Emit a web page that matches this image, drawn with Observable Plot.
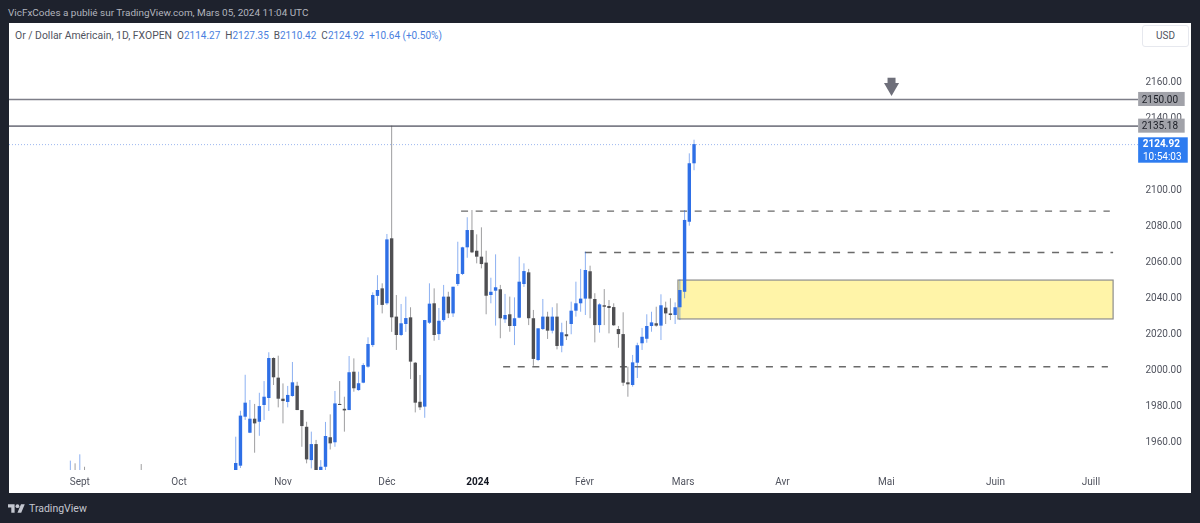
<!DOCTYPE html>
<html>
<head>
<meta charset="utf-8">
<script src="https://cdn.jsdelivr.net/npm/d3@7"></script>
<script src="https://cdn.jsdelivr.net/npm/@observablehq/plot@0.6"></script>
<style>
  html, body { margin: 0; padding: 0; background: #1e222d; }
  body { width: 1200px; height: 523px; overflow: hidden; position: relative; font-family: Roboto, sans-serif; }
  #author { position: absolute; left: 8px; top: 6px; font-size: 9.95px; line-height: 14px; color: #b2b5be; white-space: nowrap; }
  #chart_1 { position: absolute; left: 9px; top: 23px; width: 1182px; height: 470px; background: #fff; }
  #chart_1 svg { display: block; filter: blur(0.3px); }
  #legend { position: absolute; left: 6px; top: 6px; font-size: 10.4px; line-height: 14px; color: #50535e; white-space: nowrap; z-index: 1; }
  #legend span { color: #4a7fe0; font-size: 10px; }
  #legend b { font-weight: normal; font-size: 10px; margin-left: 5px; }
  #usd { position: absolute; left: 1133px; top: 2px; width: 45px; height: 20px; border: 1px solid #e6e8ee; border-radius: 3px; font-size: 10px; line-height: 20px; color: #50535e; text-align: center; background: #fff; z-index: 1; }
  #brand { position: absolute; left: 8px; top: 502px; height: 13px; display: flex; align-items: center; color: #c4c7d0; font-size: 10.5px; }
  #brand svg { margin-right: 4px; }
</style>
</head>
<body>
<div id="author">VicFxCodes a publié sur TradingView.com, Mars 05, 2024 11:04 UTC</div>
<div id="chart_1">
  <div id="legend">Or / Dollar Américain, 1D, FXOPEN<b>O</b><span>2114.27</span><b>H</b><span>2127.35</span><b>B</b><span>2110.42</span><b>C</b><span>2124.92</span><b><span>+10.64 (+0.50%)</span></b></div>
  <div id="usd">USD</div>
</div>
<div id="brand">
  <svg width="17" height="13" viewBox="0 2 36 22"><path fill="#c4c7d0" d="M14 22H7V11H0V4h14v18zM28 22h-8l7.5-18h8L28 22z"/><circle fill="#c4c7d0" cx="20" cy="8" r="4"/></svg>
  TradingView
</div>
<script>
  // first bar of the main run, counted in trading days
  const firstBar = 35;
  const highs = [1962.4,1976.8,1996.8,1982.8,1980.6,1986.8,1993.3,2009.3,2006.5,2007.4,
    1992,1990.6,2003.9,1992.9,1977.2,1970.7,1965.2,1960.6,1949.4,1970.6,
    1974.8,1987.8,1993.3,1984.6,2007.2,2005.9,1998.5,2003.2,2017.6,2042.6,
    2052.1,2047.6,2075,2135.18,2041.1,2036.1,2040.2,2034.3,2003.9,1996.7,
    2027.2,2047.6,2044.8,2033.9,2046.7,2042.9,2045.7,2070.7,2067.9,2084.3,
    2088.3,2074.8,2078.7,2065.7,2050.7,2063.7,2046.7,2041.7,2040.2,2039.8,
    2062.4,2058.7,2055.6,2032.8,2022.6,2038.9,2031.8,2034.3,2036.5,2025.7,
    2026.8,2037.4,2048.5,2055.6,2065.2,2057.4,2042.1,2036.5,2044.4,2038.3,
    2036.5,2023.9,2031.5,2001.3,2007.8,2014.6,2022.8,2030.4,2031.8,2034.6,
    2041.5,2037.4,2039.3,2037,2049.8,2088.3,2119.8,2127.35];
  const opens = [1942,1946.3,1973.5,1964.6,1972.4,1970.7,1980,1983.9,2006.1,1995.2,
    1983.5,1981.7,1985,1990.7,1977.2,1967.9,1949.4,1958.3,1943,1945.7,
    1962.1,1959.3,1980.6,1977.9,1977.2,1998.5,1988.3,1992.4,2001.3,2013.3,
    2040.6,2044.8,2036.5,2072.6,2029.1,2018.9,2025,2028.7,2003.5,1981.8,
    1979.1,2025.7,2036.5,2019.4,2027.2,2040.2,2030.9,2047.2,2052.8,2067.6,
    2077.2,2065.7,2062.4,2059.1,2041.1,2043.5,2044.3,2027.6,2030.4,2023.9,
    2028.5,2047.2,2053.7,2028.2,2005,2022.2,2029.1,2021.3,2029.1,2012.9,
    2019.3,2025,2032.4,2036.5,2039.1,2054.3,2038.9,2024.4,2035.4,2035,
    2034.4,2022.2,2019.4,1992.6,1991.1,2003.5,2014.3,2016.8,2023.9,2025.4,
    2024.1,2034.1,2030.9,2030,2034.3,2042.9,2081.8,2114.27];
  const closes = [1947.8,1974.1,1981.3,1972.4,1969.8,1979.4,1984.6,2006.1,1995.4,1983.5,
    1982.2,1985.6,1992.6,1977.2,1968.3,1949.8,1958.3,1943,1945.7,1962.8,
    1958.7,1980.9,1980,1977,1998.2,1989.3,1992.1,2002.2,2013.9,2041.1,
    2043.9,2035.6,2072,2028.7,2018.9,2025.4,2028.3,2004.1,1981.3,1978.7,
    2027.2,2036.3,2018.9,2026.8,2040.2,2030.9,2045.7,2052.8,2067.6,2077.2,
    2064.8,2062.4,2058.3,2040.7,2042.9,2045.4,2028.2,2030,2023.9,2028.2,
    2048.5,2054.4,2028.2,2005.6,2022.6,2029.1,2021.3,2029.1,2012.8,2020.4,
    2018.2,2032.4,2036.5,2039.1,2055,2039.1,2024.4,2035.9,2034.6,2033.9,
    2024.3,2019.4,1992.4,1991.5,2003.7,2013.2,2017.9,2023.9,2025.9,2024.1,
    2035.4,2030.9,2030,2034.3,2043.9,2082.8,2114.3,2124.92];
  const lows = [1940,1945,1971.7,1964.4,1953.5,1962.9,1971.7,1976.7,1991.1,1978.7,
    1969.8,1978.7,1984.6,1977.2,1956.8,1947.6,1944.8,1941,1942,1943.9,
    1955.3,1956.8,1980,1965.2,1977.2,1987.4,1987.9,1992.1,2000.7,2012.2,
    2035.6,2030.9,2035.6,2020.6,2010.6,2018.3,2020.6,1994.4,1975.9,1977.2,
    1972.9,2025,2015.7,2016.1,2026.3,2028.3,2028.9,2046.1,2052.2,2061.8,
    2064.4,2058.7,2055.9,2030.4,2036.5,2024.1,2017.1,2025.6,2020.7,2013.3,
    2028.2,2045.6,2024.4,2001.8,2004.4,2021.7,2016.7,2019.8,2010.9,2009.3,
    2016.1,2019.3,2029.1,2031.8,2030,2028.2,2014.8,2020.2,2024.4,2019.8,
    2023.9,2011.8,1990.6,1984.6,1990.2,1995,2010.6,2014.6,2020.7,2023.5,
    2016.1,2025,2027.2,2025,2027.2,2039.3,2079.6,2110.42];

  // the few September bars whose upper wick pokes above the bottom edge
  const earlyBars = [0,1,2,3,15];
  const earlyHighs = [1949.1,1947.6,1952.6,1945.7,1947.2];
  const earlyUp = [true,false,true,false,false];

  const monthTicks = [2,23,45,67,108.8,129.7,150.7,172.7,195.8,216];
  const monthLabels = ["Sept","Oct","Nov","Déc","Févr","Mars","Avr","Mai","Juin","Juill"];
  const yearTick = [86.2];
  const yearLabel = ["2024"];
  // 2120 sits behind the last price tag, so it is left out
  const priceTicks = [1960,1980,2000,2020,2040,2060,2080,2100,2140,2160];

  const solidLevels = [2150, 2135.18];
  const lastPrice = 2124.92;
  const countdown = "10:54:03";
  const dashLevels = [2088, 2065, 2001.5];
  const dashFrom = [82.8, 109, 91.7];
  const dashTo = [220.1, 220.8, 219.7];
  const zone = {x1: 128.7, x2: 220.8, y1: 2027.8, y2: 2049.4};
  const arrowBar = 173.8;

  const blue = "#2e6fe6";
  const grey = "#4f4f52";

  const bars = highs.map((h, i) => ({
    i: firstBar + i, high: h, open: opens[i], close: closes[i], low: lows[i],
    color: closes[i] >= opens[i] ? blue : grey
  }));
  const early = earlyBars.map((b, i) => ({
    i: b, high: earlyHighs[i], low: 1930, color: earlyUp[i] ? blue : grey
  }));
  const dashes = dashLevels.map((p, i) => ({p: p, x1: dashFrom[i], x2: dashTo[i]}));

  let chart = Plot.plot({
    width: 1182,
    height: 470,
    marginLeft: 0,
    marginRight: 53,
    marginTop: 0,
    marginBottom: 23,
    style: {background: "#fff", fontFamily: "Roboto, sans-serif", fontSize: "10px", color: "#50535e"},
    x: {type: "linear", domain: [-12.88, 226.07]},
    y: {domain: [1943.9, 2192.2]},
    marks: [
      Plot.axisX(monthTicks, {
        anchor: "bottom", tickSize: 0, tickPadding: 7, label: null,
        tickFormat: d => monthLabels[monthTicks.indexOf(d)], fill: "#50535e"
      }),
      Plot.axisX(yearTick, {
        anchor: "bottom", tickSize: 0, tickPadding: 7, label: null,
        tickFormat: () => yearLabel[0], fill: "#131722", fontWeight: "bold"
      }),
      Plot.axisY(priceTicks, {
        anchor: "right", tickSize: 0, tickPadding: 7, label: null,
        tickFormat: d => d.toFixed(2), fill: "#50535e"
      }),
      Plot.rect([zone], {x1: "x1", x2: "x2", y1: "y1", y2: "y2", fill: "#fff4a8", stroke: "#8d8d8d", strokeWidth: 1.2}),
      Plot.ruleY(solidLevels, {stroke: "#7d7e88", strokeWidth: 1.6}),
      Plot.ruleY([lastPrice], {stroke: "#9db8f0", strokeWidth: 1, strokeDasharray: "1,2"}),
      Plot.ruleY(dashes, {y: "p", x1: "x1", x2: "x2", stroke: "#6a6a6a", strokeWidth: 1.4, strokeDasharray: "7,7.6"}),
      // wicks
      Plot.ruleX(early, {x: "i", y1: "low", y2: "high", stroke: "color", strokeWidth: 1, strokeOpacity: 0.55, clip: true}),
      Plot.ruleX(bars, {x: "i", y1: "low", y2: "high", stroke: "color", strokeWidth: 1, strokeOpacity: 0.55, clip: true}),
      // bodies
      Plot.ruleX(bars, {x: "i", y1: "open", y2: "close", stroke: "color", strokeWidth: 3.4, clip: true}),
      // down arrow above the 2150 level
      Plot.ruleX([arrowBar], {y1: 2157.7, y2: 2161.8, stroke: "#6e6f7a", strokeWidth: 8}),
      Plot.dot([arrowBar], {x: d => d, y: [2156.7], symbol: "triangle", rotate: 180, r: 5.6, fill: "#6e6f7a"}),
      // price tags on the axis
      Plot.rect(solidLevels, {x1: 226.1, x2: 235.95, y1: d => d - 3.9, y2: d => d + 3.9, fill: "#a1a2a9"}),
      Plot.text(solidLevels, {x: 230.6, y: d => d, text: d => d.toFixed(2), fill: "#1c1f27"}),
      Plot.rect([lastPrice], {x1: 226.1, x2: 236.6, y1: 2114.6, y2: 2128.7, fill: "#2e7cf0"}),
      Plot.text([lastPrice], {x: 230.9, y: d => d + 0.3, text: d => d.toFixed(2), fill: "#fff", fontWeight: "bold"}),
      Plot.text([countdown], {x: 231.1, y: 2118, text: d => d, fill: "#fff"})
    ]
  });

  d3.select('#chart_1').append(() => chart);
</script>
</body>
</html>
